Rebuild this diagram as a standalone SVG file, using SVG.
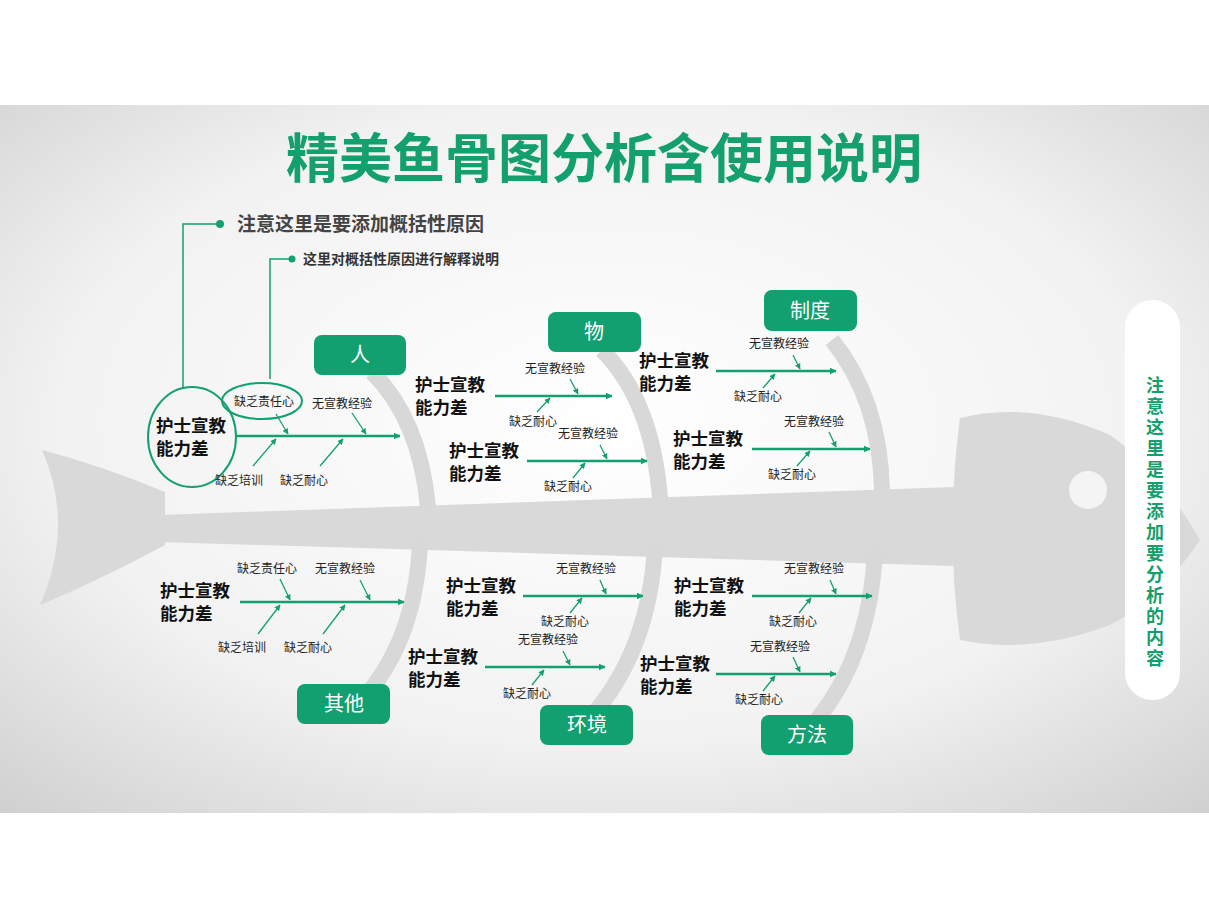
<svg xmlns="http://www.w3.org/2000/svg" width="1209" height="907" viewBox="0 0 1209 907">
<defs>
<radialGradient id="bg" cx="0.5" cy="0.45" r="0.75">
<stop offset="0" stop-color="#ffffff"/><stop offset="0.6" stop-color="#f2f2f2"/><stop offset="1" stop-color="#cfcfcf"/>
</radialGradient>
<marker id="ar" viewBox="0 0 10 10" refX="9" refY="5" markerWidth="7" markerHeight="7" markerUnits="userSpaceOnUse" orient="auto"><path d="M0,0L10,5L0,10z" fill="#12a070"/></marker>
<marker id="as" viewBox="0 0 10 10" refX="9" refY="5" markerWidth="6" markerHeight="6" markerUnits="userSpaceOnUse" orient="auto"><path d="M0,0L10,5L0,10z" fill="#12a070"/></marker>
<style>
.b{fill:#12a070}
.bt{fill:#fff;font:20px "Noto Sans CJK SC",sans-serif;text-anchor:middle}
.m{font:bold 17.5px "Noto Sans CJK SC",sans-serif;fill:#111}
.s{font:12px "Noto Sans CJK SC",sans-serif;fill:#222}
.v{font:bold 18px "Noto Sans CJK SC",sans-serif;fill:#14a06c;text-anchor:middle}
.ln{stroke:#12a070;stroke-width:2.5;fill:none;marker-end:url(#ar)}
.sa{stroke:#12a070;stroke-width:1.3;fill:none;marker-end:url(#as)}
.rib{stroke:#d8d8d8;stroke-width:16;fill:none}
.g{fill:#d9d9d9}
</style>
</defs>
<rect x="0" y="0" width="1209" height="907" fill="#fff"/>
<rect x="0" y="105" width="1209" height="708" fill="url(#bg)"/>
<g id="fish">
<path class="g" d="M165,492 Q100,465 42,450 Q75,525 40,605 Q100,580 165,545 Z"/>
<path class="g" d="M160,515 L955,487 L955,566 L160,542 Z"/>
<path class="g" d="M960,418 Q1030,400 1110,435 Q1160,470 1200,540 Q1160,600 1110,625 Q1030,655 960,640 Q945,530 960,418 Z"/>
<circle cx="1088" cy="490" r="19" fill="#f4f4f4"/>
<path class="rib" d="M372,372 Q420,420 428,507"/>
<path class="rib" d="M602,350 Q652,400 660,498"/>
<path class="rib" d="M832,340 Q880,400 882,490"/>
<path class="rib" d="M420,542 Q416,640 362,700"/>
<path class="rib" d="M655,545 Q650,650 590,718"/>
<path class="rib" d="M875,550 Q870,660 810,728"/>
</g>
<text x="604" y="178" text-anchor="middle" style="font:bold 53px 'Noto Sans CJK SC',sans-serif;fill:#14a06c">精美鱼骨图分析含使用说明</text>
<g id="notes">
<path d="M183,388 V224 H218" stroke="#12a070" stroke-width="1.5" fill="none"/>
<circle cx="220" cy="224" r="4" class="b"/>
<text x="237" y="231" style="font:bold 19px 'Noto Sans CJK SC',sans-serif;fill:#444">注意这里是要添加概括性原因</text>
<path d="M270,379 V259 H290" stroke="#12a070" stroke-width="1.5" fill="none"/>
<circle cx="292" cy="259" r="3.5" class="b"/>
<text x="303" y="264" style="font:bold 14px 'Noto Sans CJK SC',sans-serif;fill:#333">这里对概括性原因进行解释说明</text>
</g>
<g id="sidepanel">
<rect x="1125" y="300" width="55" height="400" rx="27" fill="#fff"/>
<text class="v" x="1155" y="392">注</text><text class="v" x="1155" y="413">意</text><text class="v" x="1155" y="434">这</text><text class="v" x="1155" y="455">里</text><text class="v" x="1155" y="476">是</text><text class="v" x="1155" y="497">要</text><text class="v" x="1155" y="518">添</text><text class="v" x="1155" y="539">加</text><text class="v" x="1155" y="560">要</text><text class="v" x="1155" y="581">分</text><text class="v" x="1155" y="602">析</text><text class="v" x="1155" y="623">的</text><text class="v" x="1155" y="644">内</text><text class="v" x="1155" y="665">容</text>
</g>
<g id="box-ren"><rect class="b" x="314" y="335" width="92" height="40" rx="8"/><text class="bt" x="360" y="362">人</text></g>
<g id="box-wu"><rect class="b" x="548" y="312" width="93" height="40" rx="8"/><text class="bt" x="594" y="339">物</text></g>
<g id="box-zhidu"><rect class="b" x="764" y="290" width="93" height="41" rx="8"/><text class="bt" x="810" y="318">制度</text></g>
<g id="box-qita"><rect class="b" x="297" y="684" width="93" height="40" rx="8"/><text class="bt" x="344" y="711">其他</text></g>
<g id="box-huanjing"><rect class="b" x="540" y="705" width="93" height="40" rx="8"/><text class="bt" x="587" y="732">环境</text></g>
<g id="box-fangfa"><rect class="b" x="761" y="715" width="92" height="40" rx="8"/><text class="bt" x="807" y="742">方法</text></g>
<g id="cause-A">
<ellipse cx="192" cy="437" rx="44" ry="50" fill="none" stroke="#12a070" stroke-width="2"/>
<ellipse cx="262" cy="401" rx="40" ry="18" fill="none" stroke="#12a070" stroke-width="2"/>
<text class="m" x="156" y="432">护士宣教</text><text class="m" x="156" y="455">能力差</text>
<text class="s" x="234" y="406">缺乏责任心</text><text class="s" x="312" y="408">无宣教经验</text>
<text class="s" x="215" y="485">缺乏培训</text><text class="s" x="280" y="485">缺乏耐心</text>
</g>
<g id="cause-B"><text class="m" x="415" y="391">护士宣教</text><text class="m" x="415" y="414">能力差</text><text class="s" x="525" y="373">无宣教经验</text><text class="s" x="509" y="426">缺乏耐心</text></g>
<g id="cause-C"><text class="m" x="449" y="457">护士宣教</text><text class="m" x="449" y="480">能力差</text><text class="s" x="558" y="438">无宣教经验</text><text class="s" x="544" y="491">缺乏耐心</text></g>
<g id="cause-D"><text class="m" x="639" y="367">护士宣教</text><text class="m" x="639" y="390">能力差</text><text class="s" x="749" y="348">无宣教经验</text><text class="s" x="734" y="401">缺乏耐心</text></g>
<g id="cause-E"><text class="m" x="673" y="445">护士宣教</text><text class="m" x="673" y="468">能力差</text><text class="s" x="784" y="426">无宣教经验</text><text class="s" x="768" y="479">缺乏耐心</text></g>
<g id="cause-F"><text class="m" x="160" y="597">护士宣教</text><text class="m" x="160" y="620">能力差</text><text class="s" x="237" y="573">缺乏责任心</text><text class="s" x="315" y="573">无宣教经验</text><text class="s" x="218" y="652">缺乏培训</text><text class="s" x="284" y="652">缺乏耐心</text></g>
<g id="cause-G"><text class="m" x="446" y="592">护士宣教</text><text class="m" x="446" y="615">能力差</text><text class="s" x="556" y="573">无宣教经验</text><text class="s" x="541" y="626">缺乏耐心</text></g>
<g id="cause-H"><text class="m" x="408" y="663">护士宣教</text><text class="m" x="408" y="686">能力差</text><text class="s" x="518" y="644">无宣教经验</text><text class="s" x="503" y="698">缺乏耐心</text></g>
<g id="cause-I"><text class="m" x="674" y="592">护士宣教</text><text class="m" x="674" y="615">能力差</text><text class="s" x="784" y="573">无宣教经验</text><text class="s" x="769" y="626">缺乏耐心</text></g>
<g id="cause-J"><text class="m" x="640" y="670">护士宣教</text><text class="m" x="640" y="693">能力差</text><text class="s" x="750" y="651">无宣教经验</text><text class="s" x="735" y="704">缺乏耐心</text></g>
<g id="connectors">
<path class="ln" d="M236,436H400"/>
<path class="sa" d="M276,414L288,434"/><path class="sa" d="M352,413L366,434"/>
<path class="sa" d="M253,466L276,439"/><path class="sa" d="M320,466L343,439"/>
<path class="ln" d="M495,396H612"/><path class="sa" d="M570,379L578,394"/><path class="sa" d="M537,412L550,398"/>
<path class="ln" d="M527,461H647"/><path class="sa" d="M600,445L607,459"/><path class="sa" d="M573,478L585,463"/>
<path class="ln" d="M716,371H836"/><path class="sa" d="M793,355L800,369"/><path class="sa" d="M763,388L775,374"/>
<path class="ln" d="M752,449H870"/><path class="sa" d="M829,432L836,447"/><path class="sa" d="M797,466L810,451"/>
<path class="ln" d="M240,602H404"/><path class="sa" d="M280,579L290,600"/><path class="sa" d="M360,580L370,600"/>
<path class="sa" d="M258,634L280,605"/><path class="sa" d="M323,634L345,605"/>
<path class="ln" d="M523,596H643"/><path class="sa" d="M600,580L606,594"/><path class="sa" d="M570,613L582,598"/>
<path class="ln" d="M485,667H605"/><path class="sa" d="M563,651L570,665"/><path class="sa" d="M532,685L544,670"/>
<path class="ln" d="M752,596H872"/><path class="sa" d="M830,580L836,594"/><path class="sa" d="M799,613L811,598"/>
<path class="ln" d="M716,674H836"/><path class="sa" d="M793,657L800,672"/><path class="sa" d="M763,691L775,676"/>
</g>
</svg>
